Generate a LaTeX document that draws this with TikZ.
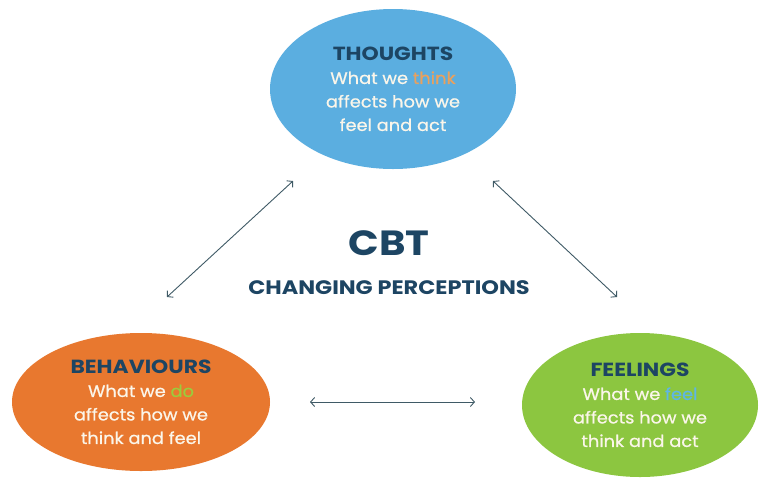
\documentclass[tikz,border=0pt]{standalone}
\usepackage{fontspec}
\setmainfont{Poppins}
\newfontfamily\bodyfont{Poppins}[FakeBold=0.7,FakeStretch=1.08]
\newfontfamily\headfont{Poppins}[FakeStretch=1.15]
\usetikzlibrary{shapes.geometric,arrows.meta}
\definecolor{thoughtblue}{HTML}{5BAEE0}
\definecolor{behavorange}{HTML}{E8782F}
\definecolor{feelgreen}{HTML}{8CC640}
\definecolor{titlenavy}{HTML}{1D4563}
\definecolor{bodytext}{HTML}{FBF6EA}
\definecolor{thinkorange}{HTML}{E9A15E}
\definecolor{dogreen}{HTML}{9CCB3C}
\definecolor{feelblue}{HTML}{5FB6E4}
\definecolor{arrowgrey}{HTML}{3F5A66}
\newcommand{\bubbletitle}[1]{{\headfont\bfseries\fontsize{19}{23.5}\selectfont\color{titlenavy}#1}}
\begin{document}
\begin{tikzpicture}[x=1pt,y=-1pt,
  bubble/.style={ellipse, inner sep=0pt, align=center, text=bodytext,
    font=\bodyfont\fontsize{16.5}{23.5}\selectfont},
  link/.style={draw=arrowgrey, line width=0.9pt,
    {Straight Barb[length=4pt,width=9pt]}-{Straight Barb[length=4pt,width=9pt]}}]
\useasboundingbox (0,0) rectangle (760,480);
\fill[white] (0,0) rectangle (760,480);
\node[bubble, fill=thoughtblue, minimum width=246pt, minimum height=160pt] (thoughts) at (393,89)
  {\bubbletitle{THOUGHTS}\\ What we \textcolor{thinkorange}{think}\\ affects how we\\ feel and act};
\node[bubble, fill=behavorange, minimum width=258pt, minimum height=138pt] (behav) at (141,402)
  {\bubbletitle{BEHAVIOURS}\\ What we \textcolor{dogreen}{do}\\ affects how we\\ think and feel};
\node[bubble, fill=feelgreen, minimum width=236pt, minimum height=144pt] (feel) at (640,405)
  {\bubbletitle{FEELINGS}\\ What we \textcolor{feelblue}{feel}\\ affects how we\\ think and act};
\node[text=titlenavy, font=\headfont\bfseries\fontsize{35}{38}\selectfont] (cbt) at (389,243) {CBT};
\node[text=titlenavy, font=\headfont\bfseries\fontsize{19.5}{22}\selectfont] (persp) at (389,288) {CHANGING PERCEPTIONS};
\coordinate (tl) at (293,181);
\coordinate (bl) at (167,297);
\coordinate (tr) at (493,181);
\coordinate (br) at (617,297);
\coordinate (hl) at (310,402);
\coordinate (hr) at (475,402);
\draw[link] (bl) -- (tl);
\draw[link] (tr) -- (br);
\draw[link] (hl) -- (hr);
\end{tikzpicture}
\end{document}
